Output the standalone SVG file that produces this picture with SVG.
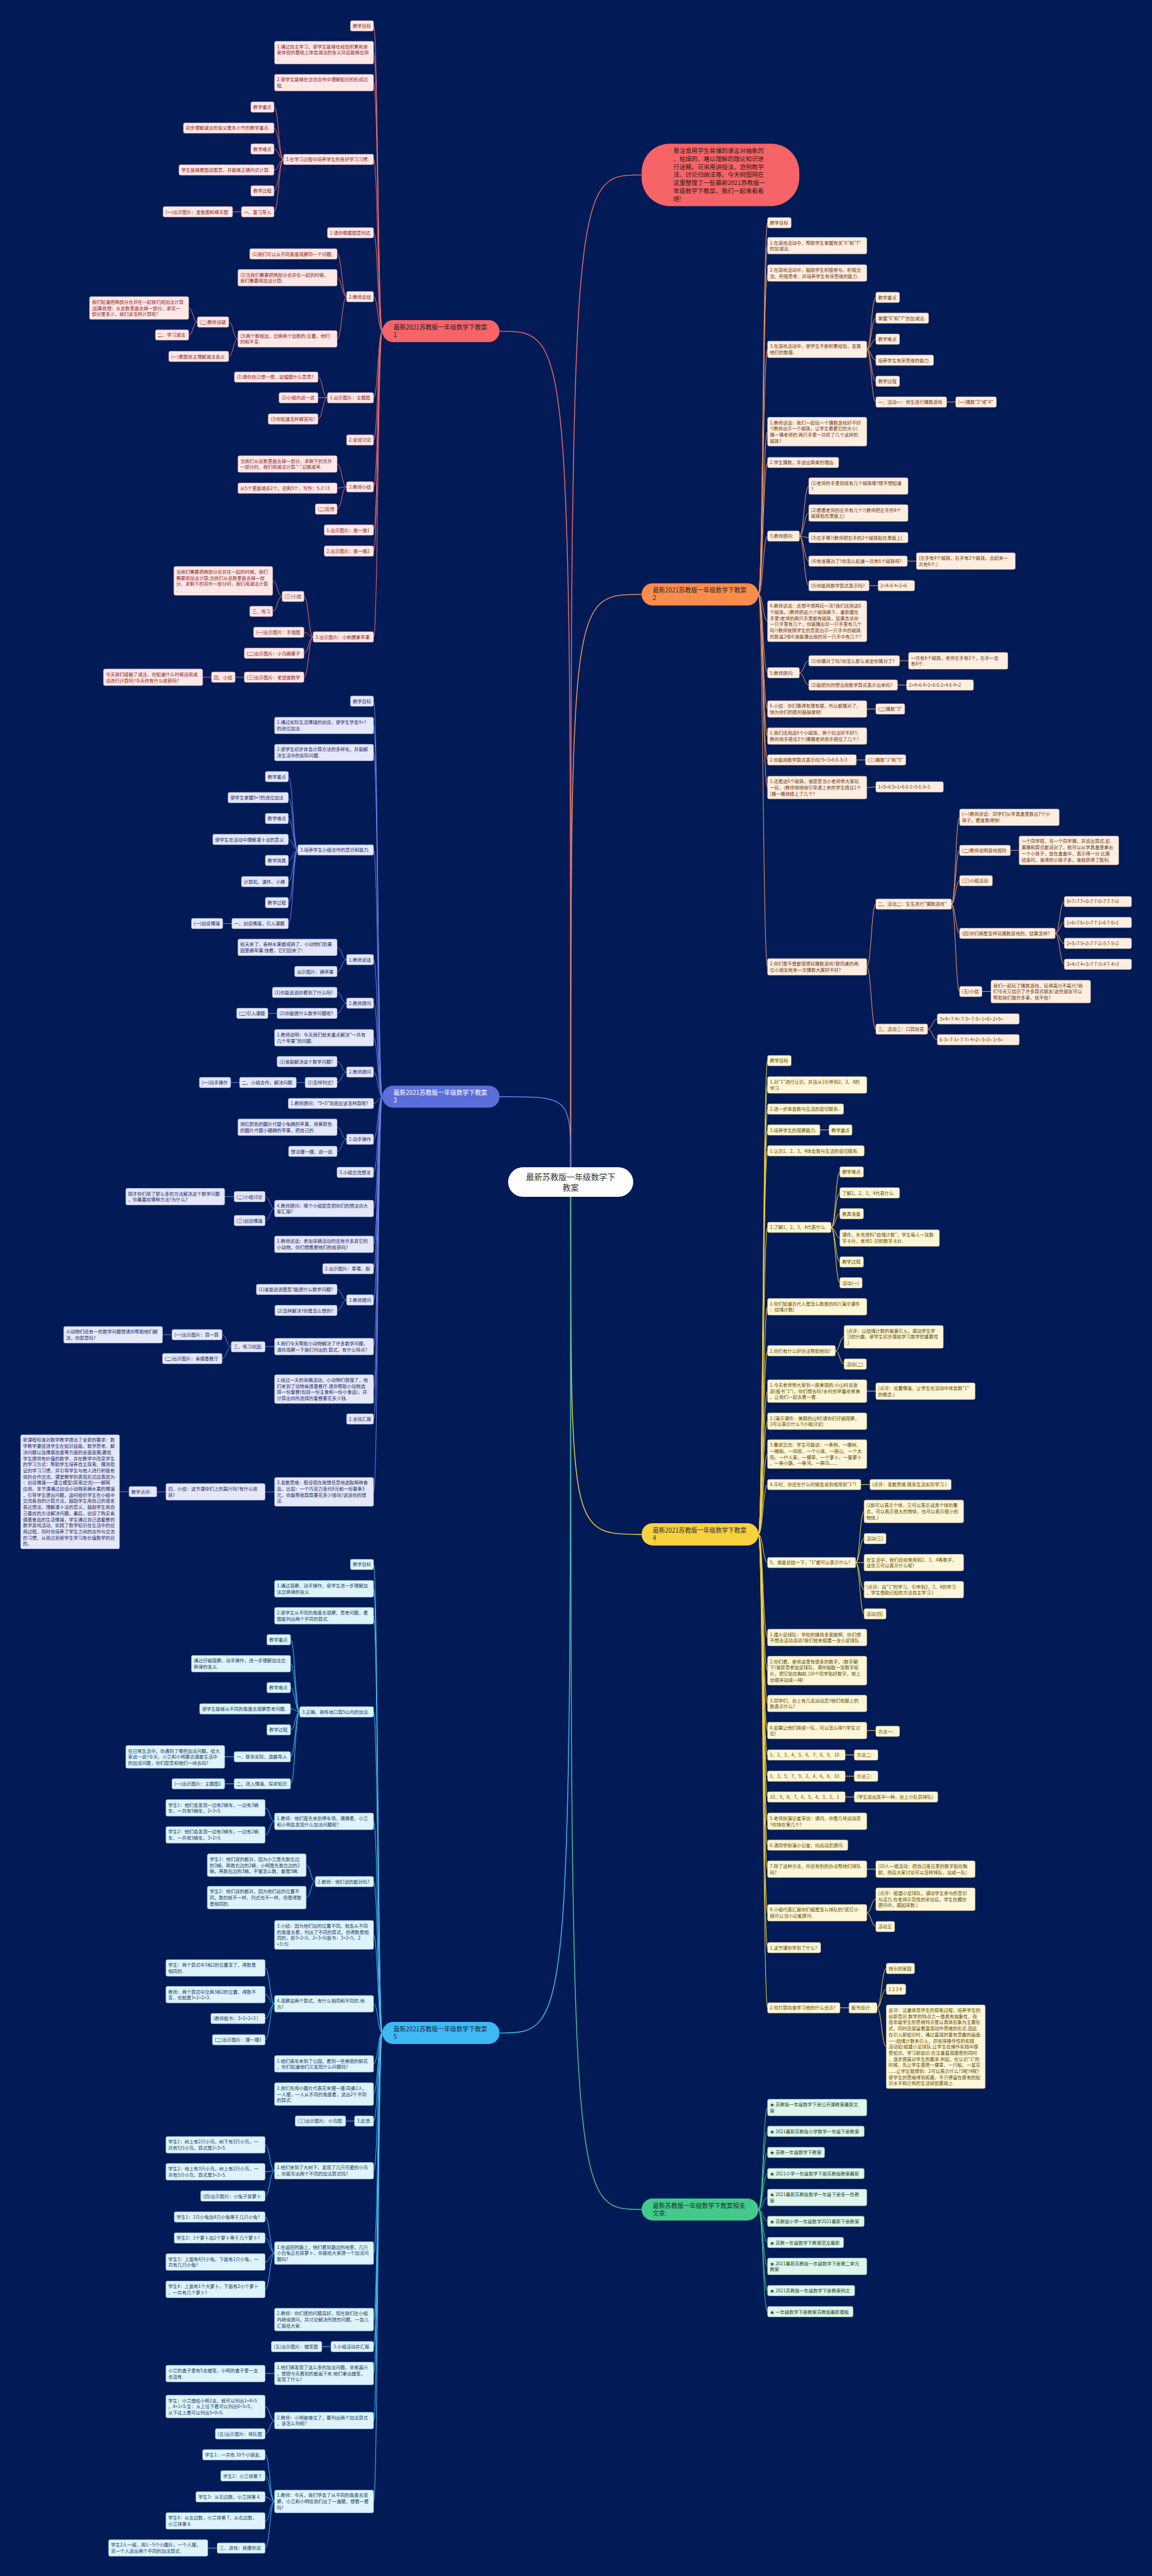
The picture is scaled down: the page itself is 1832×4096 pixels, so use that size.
<svg xmlns="http://www.w3.org/2000/svg" width="1832" height="4096" viewBox="0 0 1832 4096">
<style>
text{font-family:"Noto Sans CJK SC","Noto Sans",sans-serif;font-size:7.3px}
.n rect{rx:2.5px;ry:2.5px;stroke-width:0.6}
.b1 rect{fill:#fde8e8;stroke:#f2bcbc}.b1 text{fill:#8a2626}
.b2 rect{fill:#fdeee2;stroke:#f5c9a8}.b2 text{fill:#70370f}
.b3 rect{fill:#e4e8f8;stroke:#b9c1ec}.b3 text{fill:#1f2a6a}
.b4 rect{fill:#fdf6d8;stroke:#efdf97}.b4 text{fill:#5e4a00}
.b5 rect{fill:#dff3fc;stroke:#a8dcf4}.b5 text{fill:#173f5f}
.b6 rect{fill:#e0f5eb;stroke:#a6e0c4}.b6 text{fill:#1b4d36}
.m text{font-size:9.8px}
.m rect{rx:17.5px;ry:17.5px}
#M1 rect{fill:#f76467}#M1 text{fill:#2a2233}
#M2 rect{fill:#f98d4d}#M2 text{fill:#2f2a2a}
#M3 rect{fill:#5b6ed9}#M3 text{fill:#ffffff}
#M4 rect{fill:#f8d13f}#M4 text{fill:#333333}
#M5 rect{fill:#3dbaf4}#M5 text{fill:#1e2b4a}
#M6 rect{fill:#43c98b}#M6 text{fill:#1f3330}
#T rect{fill:#f76467}#T text{fill:#2b1a1a;font-size:9.6px}
#C rect{fill:#ffffff}#C text{fill:#333333;font-size:12.9px}
path{fill:none;stroke-width:1}
.c1{stroke:#ef6b6d}.c2{stroke:#f59a5e}.c3{stroke:#6a7de2}.c4{stroke:#f3cf3f}.c5{stroke:#47bdf2}.c6{stroke:#4cc891}
.k{stroke-width:1.4}
</style>
<rect x="0" y="0" width="1832" height="4096" fill="#021b57"/>
<g id="connectors">
<path class="c1 k" d="M907.5 1856C907.5 278.1 907.5 278.1 1020.4 278.1"/>
<path class="c1 k" d="M907.5 1856C907.5 526.6 907.5 526.6 794.4 526.6"/>
<path class="c2 k" d="M907.5 1856C907.5 945.1 907.5 945.1 1020.4 945.1"/>
<path class="c3 k" d="M907.5 1856C907.5 1743.8 907.5 1743.8 794.4 1743.8"/>
<path class="c4 k" d="M907.5 1903C907.5 2439.7 907.5 2439.7 1020.4 2439.7"/>
<path class="c5 k" d="M907.5 1903C907.5 3232.6 907.5 3232.6 794.4 3232.6"/>
<path class="c6 k" d="M907.5 1903C907.5 3513.3 907.5 3513.3 1020.4 3513.3"/>
<path class="c1" d="M608 526.6C601 526.6 601 41.1 594 41.1M608 526.6C601 526.6 601 83.7 594 83.7M608 526.6C601 526.6 601 131.5 594 131.5M608 526.6C601 526.6 601 253.5 594 253.5M608 526.6C601 526.6 601 370.1 594 370.1M608 526.6C601 526.6 601 471.7 594 471.7M608 526.6C601 526.6 601 632.5 594 632.5M608 526.6C601 526.6 601 699.6 594 699.6M608 526.6C601 526.6 601 774.1 594 774.1M608 526.6C601 526.6 601 842.8 594 842.8M608 526.6C601 526.6 601 876.2 594 876.2M608 526.6C601 526.6 601 1012.8 594 1012.8"/>
<path class="c1" d="M450.9 253.5C443.3 253.5 443.3 170.2 435.7 170.2M450.9 253.5C443.3 253.5 443.3 203.6 435.7 203.6M450.9 253.5C443.3 253.5 443.3 236.9 435.7 236.9M450.9 253.5C443.3 253.5 443.3 270.2 435.7 270.2M450.9 253.5C443.3 253.5 443.3 303.5 435.7 303.5M450.9 253.5C443.3 253.5 443.3 336.8 435.7 336.8M384 336.8H369.8"/>
<path class="c1" d="M551.2 471.7C543.6 471.7 543.6 403.8 536 403.8M551.2 471.7C543.6 471.7 543.6 441.7 536 441.7M551.2 471.7C543.6 471.7 543.6 538.9 536 538.9M378.4 538.9C371 538.9 371 512 363.7 512M378.4 538.9C371 538.9 371 566.8 363.7 566.8M314 512C307 512 307 489.8 300 489.8M314 512C307 512 307 532.6 300 532.6"/>
<path class="c1" d="M520.8 632.5C513.2 632.5 513.2 599.6 505.6 599.6M520.8 632.5H505.6M520.8 632.5C513.2 632.5 513.2 666.2 505.6 666.2M551.2 774.1C543.6 774.1 543.6 737.9 536 737.9M551.2 774.1C543.6 774.1 543.6 776.2 536 776.2M551.2 774.1C543.6 774.1 543.6 809.5 536 809.5"/>
<path class="c1" d="M498 1012.8C490.7 1012.8 490.7 948.4 483.3 948.4M498 1012.8C490.7 1012.8 490.7 1005.4 483.3 1005.4M498 1012.8C490.7 1012.8 490.7 1038.7 483.3 1038.7M498 1012.8C490.7 1012.8 490.7 1076.8 483.3 1076.8M448.8 948.4C441.2 948.4 441.2 923.7 433.6 923.7M448.8 948.4C441.2 948.4 441.2 972.1 433.6 972.1M388.6 1076.8H373.9M336.4 1076.8H322.2"/>
<path class="c3" d="M608 1743.8C601 1743.8 601 1114.9 594 1114.9M608 1743.8C601 1743.8 601 1153.6 594 1153.6M608 1743.8C601 1743.8 601 1196.6 594 1196.6M608 1743.8C601 1743.8 601 1351.5 594 1351.5M608 1743.8C601 1743.8 601 1525.9 594 1525.9M608 1743.8C601 1743.8 601 1595.1 594 1595.1M608 1743.8C601 1743.8 601 1650.1 594 1650.1M608 1743.8C601 1743.8 601 1704.6 594 1704.6M608 1743.8C601 1743.8 601 1754.6 594 1754.6M608 1743.8C601 1743.8 601 1811.5 594 1811.5M608 1743.8C601 1743.8 601 1864.1 594 1864.1M608 1743.8C601 1743.8 601 1921.7 594 1921.7M608 1743.8C601 1743.8 601 1978.6 594 1978.6M608 1743.8C601 1743.8 601 2017.4 594 2017.4M608 1743.8C601 1743.8 601 2067 594 2067M608 1743.8C601 1743.8 601 2141.2 594 2141.2M608 1743.8C601 1743.8 601 2208.8 594 2208.8M608 1743.8C601 1743.8 601 2256.3 594 2256.3M608 1743.8C601 1743.8 601 2372.2 594 2372.2"/>
<path class="c3" d="M473.7 1351.5C466.1 1351.5 466.1 1234.9 458.5 1234.9M473.7 1351.5C466.1 1351.5 466.1 1268.2 458.5 1268.2M473.7 1351.5C466.1 1351.5 466.1 1301.5 458.5 1301.5M473.7 1351.5C466.1 1351.5 466.1 1334.8 458.5 1334.8M473.7 1351.5C466.1 1351.5 466.1 1368.1 458.5 1368.1M473.7 1351.5C466.1 1351.5 466.1 1401.9 458.5 1401.9M473.7 1351.5C466.1 1351.5 466.1 1435.2 458.5 1435.2M473.7 1351.5C466.1 1351.5 466.1 1468.5 458.5 1468.5M368.8 1468.5H354.1"/>
<path class="c3" d="M551.2 1525.9C543.6 1525.9 543.6 1506.4 536 1506.4M551.2 1525.9C543.6 1525.9 543.6 1544.7 536 1544.7M551.2 1595.1C543.6 1595.1 543.6 1578 536 1578M551.2 1595.1C543.6 1595.1 543.6 1611.3 536 1611.3M440.7 1611.3H426M551.2 1704.6C543.6 1704.6 543.6 1688 536 1688M551.2 1704.6C543.6 1704.6 543.6 1721.3 536 1721.3M485.3 1721.3H471.1M381 1721.3H366.8M551.2 1811.5C543.6 1811.5 543.6 1792.4 536 1792.4M551.2 1811.5C543.6 1811.5 543.6 1830.8 536 1830.8"/>
<path class="c3" d="M436.7 1921.7C429.1 1921.7 429.1 1902.7 421.5 1902.7M436.7 1921.7C429.1 1921.7 429.1 1940.8 421.5 1940.8M372.4 1902.7H357.2M551.2 2067C543.6 2067 543.6 2050.3 536 2050.3M551.2 2067C543.6 2067 543.6 2083.7 536 2083.7M436.7 2141.3H421.5M367.8 2141.5C360.5 2141.5 360.5 2122.2 353.1 2122.2M367.8 2141.5C360.5 2141.5 360.5 2160.3 353.1 2160.3M273.6 2122.2H258.4M436.7 2372.2H421.5M263.9 2372.1H249.2M205.2 2371.9H190"/>
<path class="c5" d="M608 3232.6C601 3232.6 601 2487.6 594 2487.6M608 3232.6C601 3232.6 601 2526.3 594 2526.3M608 3232.6C601 3232.6 601 2569.2 594 2569.2M608 3232.6C601 3232.6 601 2722 594 2722M608 3232.6C601 3232.6 601 2896.1 594 2896.1M608 3232.6C601 3232.6 601 2991.9 594 2991.9M608 3232.6C601 3232.6 601 3076.7 594 3076.7M608 3232.6C601 3232.6 601 3186.2 594 3186.2M608 3232.6C601 3232.6 601 3281.7 594 3281.7M608 3232.6C601 3232.6 601 3329.8 594 3329.8M608 3232.6C601 3232.6 601 3372.6 594 3372.6M608 3232.6C601 3232.6 601 3451.6 594 3451.6M608 3232.6C601 3232.6 601 3582.6 594 3582.6M608 3232.6C601 3232.6 601 3688.2 594 3688.2M608 3232.6C601 3232.6 601 3731.2 594 3731.2M608 3232.6C601 3232.6 601 3773.9 594 3773.9M608 3232.6C601 3232.6 601 3848.9 594 3848.9M608 3232.6C601 3232.6 601 3977.4 594 3977.4"/>
<path class="c5" d="M476.7 2722C469.4 2722 469.4 2607.2 462 2607.2M476.7 2722C469.4 2722 469.4 2645.5 462 2645.5M476.7 2722C469.4 2722 469.4 2683.4 462 2683.4M476.7 2722C469.4 2722 469.4 2717.2 462 2717.2M476.7 2722C469.4 2722 469.4 2750.5 462 2750.5M476.7 2722C469.4 2722 469.4 2793.4 462 2793.4M476.7 2722C469.4 2722 469.4 2836.4 462 2836.4M372.4 2793.4H357.2M372.4 2836.4H357.2"/>
<path class="c5" d="M436.7 2896.1C429.1 2896.1 429.1 2874.7 421.5 2874.7M436.7 2896.1C429.1 2896.1 429.1 2917.6 421.5 2917.6M501.5 2991.9C494.2 2991.9 494.2 2965.8 486.8 2965.8M501.5 2991.9C494.2 2991.9 494.2 3017.3 486.8 3017.3M436.7 3186.2C429.1 3186.2 429.1 3129.2 421.5 3129.2M436.7 3186.2C429.1 3186.2 429.1 3171.7 421.5 3171.7M436.7 3186.2C429.1 3186.2 429.1 3209.6 421.5 3209.6M436.7 3186.2C429.1 3186.2 429.1 3243.4 421.5 3243.4M563.9 3372.6H549.7"/>
<path class="c5" d="M436.7 3451.6C429.1 3451.6 429.1 3410.5 421.5 3410.5M436.7 3451.6C429.1 3451.6 429.1 3453.3 421.5 3453.3M436.7 3451.6C429.1 3451.6 429.1 3491.8 421.5 3491.8M436.7 3582.6C429.1 3582.6 429.1 3525.1 421.5 3525.1M436.7 3582.6C429.1 3582.6 429.1 3558.5 421.5 3558.5M436.7 3582.6C429.1 3582.6 429.1 3596.8 421.5 3596.8M436.7 3582.6C429.1 3582.6 429.1 3640.3 421.5 3640.3M526.4 3731.2H511.7M436.7 3773.9H421.5M436.7 3848.9C429.1 3848.9 429.1 3826.6 421.5 3826.6M436.7 3848.9C429.1 3848.9 429.1 3870 421.5 3870"/>
<path class="c5" d="M436.7 3977.4C429.1 3977.4 429.1 3903.2 421.5 3903.2M436.7 3977.4C429.1 3977.4 429.1 3936.8 421.5 3936.8M436.7 3977.4C429.1 3977.4 429.1 3970.1 421.5 3970.1M436.7 3977.4C429.1 3977.4 429.1 4008.5 421.5 4008.5M436.7 3977.4C429.1 3977.4 429.1 4051.6 421.5 4051.6M345.5 4051.6H330.3"/>
<path class="c2" d="M1206.1 945.1C1213.4 945.1 1213.4 354.1 1220.7 354.1M1206.1 945.1C1213.4 945.1 1213.4 390.7 1220.7 390.7M1206.1 945.1C1213.4 945.1 1213.4 434.1 1220.7 434.1M1206.1 945.1C1213.4 945.1 1213.4 555.6 1220.7 555.6M1206.1 945.1C1213.4 945.1 1213.4 686.4 1220.7 686.4M1206.1 945.1C1213.4 945.1 1213.4 735.4 1220.7 735.4M1206.1 945.1C1213.4 945.1 1213.4 852.4 1220.7 852.4M1206.1 945.1C1213.4 945.1 1213.4 987.8 1220.7 987.8M1206.1 945.1C1213.4 945.1 1213.4 1069.7 1220.7 1069.7M1206.1 945.1C1213.4 945.1 1213.4 1127.4 1220.7 1127.4M1206.1 945.1C1213.4 945.1 1213.4 1170.4 1220.7 1170.4M1206.1 945.1C1213.4 945.1 1213.4 1208.3 1220.7 1208.3M1206.1 945.1C1213.4 945.1 1213.4 1252.2 1220.7 1252.2M1206.1 945.1C1213.4 945.1 1213.4 1537.4 1220.7 1537.4"/>
<path class="c2" d="M1378.3 555.6C1385.6 555.6 1385.6 472.9 1392.9 472.9M1378.3 555.6C1385.6 555.6 1385.6 505.9 1392.9 505.9M1378.3 555.6C1385.6 555.6 1385.6 539.3 1392.9 539.3M1378.3 555.6C1385.6 555.6 1385.6 572.8 1392.9 572.8M1378.3 555.6C1385.6 555.6 1385.6 606.2 1392.9 606.2M1378.3 555.6C1385.6 555.6 1385.6 639.2 1392.9 639.2M1505.3 639.2H1519.9"/>
<path class="c2" d="M1271.2 852.4C1278.7 852.4 1278.7 772.9 1286.2 772.9M1271.2 852.4C1278.7 852.4 1278.7 815.8 1286.2 815.8M1271.2 852.4C1278.7 852.4 1278.7 854.7 1286.2 854.7M1271.2 852.4C1278.7 852.4 1278.7 892.2 1286.2 892.2M1271.2 852.4C1278.7 852.4 1278.7 931.2 1286.2 931.2M1442.8 892.2H1457.4M1382 931.2H1396.5M1271.2 1069.7C1278.7 1069.7 1278.7 1050.7 1286.2 1050.7M1271.2 1069.7C1278.7 1069.7 1278.7 1089.2 1286.2 1089.2M1430.4 1050.7H1444.9M1427.2 1089.2H1441.8M1378.3 1127.4H1392.9M1361.7 1208.3H1376.3M1378.3 1252.2C1385.6 1252.2 1385.6 1251.2 1392.9 1251.2"/>
<path class="c2" d="M1378.3 1537.4C1385.6 1537.4 1385.6 1437.6 1392.9 1437.6M1378.3 1537.4C1385.6 1537.4 1385.6 1636.4 1392.9 1636.4M1513 1437.6C1519.6 1437.6 1519.6 1299.6 1526.1 1299.6M1513 1437.6C1519.6 1437.6 1519.6 1352.2 1526.1 1352.2M1513 1437.6C1519.6 1437.6 1519.6 1400.4 1526.1 1400.4M1513 1437.6C1519.6 1437.6 1519.6 1484.1 1526.1 1484.1M1513 1437.6C1519.6 1437.6 1519.6 1576.6 1526.1 1576.6M1606.7 1352.2H1620.8M1678 1484.1C1685.3 1484.1 1685.3 1433.6 1692.6 1433.6M1678 1484.1C1685.3 1484.1 1685.3 1466.8 1692.6 1466.8M1678 1484.1C1685.3 1484.1 1685.3 1500 1692.6 1500M1678 1484.1C1685.3 1484.1 1685.3 1533.2 1692.6 1533.2M1561.5 1576.6H1576M1475.1 1636.4C1482.9 1636.4 1482.9 1620.1 1490.7 1620.1M1475.1 1636.4C1482.9 1636.4 1482.9 1653.2 1490.7 1653.2"/>
<path class="c4" d="M1206.1 2439.7C1213.4 2439.7 1213.4 1686.5 1220.7 1686.5M1206.1 2439.7C1213.4 2439.7 1213.4 1725.1 1220.7 1725.1M1206.1 2439.7C1213.4 2439.7 1213.4 1763.5 1220.7 1763.5M1206.1 2439.7C1213.4 2439.7 1213.4 1796.7 1220.7 1796.7M1206.1 2439.7C1213.4 2439.7 1213.4 1829.9 1220.7 1829.9M1206.1 2439.7C1213.4 2439.7 1213.4 1951.6 1220.7 1951.6M1206.1 2439.7C1213.4 2439.7 1213.4 2077.9 1220.7 2077.9M1206.1 2439.7C1213.4 2439.7 1213.4 2147.8 1220.7 2147.8M1206.1 2439.7C1213.4 2439.7 1213.4 2212 1220.7 2212M1206.1 2439.7C1213.4 2439.7 1213.4 2259.9 1220.7 2259.9M1206.1 2439.7C1213.4 2439.7 1213.4 2312.1 1220.7 2312.1M1206.1 2439.7C1213.4 2439.7 1213.4 2360.6 1220.7 2360.6M1206.1 2439.7C1213.4 2439.7 1213.4 2484.6 1220.7 2484.6M1206.1 2439.7C1213.4 2439.7 1213.4 2603.8 1220.7 2603.8M1206.1 2439.7C1213.4 2439.7 1213.4 2656.5 1220.7 2656.5M1206.1 2439.7C1213.4 2439.7 1213.4 2708.7 1220.7 2708.7M1206.1 2439.7C1213.4 2439.7 1213.4 2751.7 1220.7 2751.7M1206.1 2439.7C1213.4 2439.7 1213.4 2790.5 1220.7 2790.5M1206.1 2439.7C1213.4 2439.7 1213.4 2824.2 1220.7 2824.2M1206.1 2439.7C1213.4 2439.7 1213.4 2857.3 1220.7 2857.3M1206.1 2439.7C1213.4 2439.7 1213.4 2896 1220.7 2896M1206.1 2439.7C1213.4 2439.7 1213.4 2933.9 1220.7 2933.9M1206.1 2439.7C1213.4 2439.7 1213.4 2972.1 1220.7 2972.1M1206.1 2439.7C1213.4 2439.7 1213.4 3041.5 1220.7 3041.5M1206.1 2439.7C1213.4 2439.7 1213.4 3096.9 1220.7 3096.9M1206.1 2439.7C1213.4 2439.7 1213.4 3192.6 1220.7 3192.6"/>
<path class="c4" d="M1303.9 1796.7H1318.5M1321.6 1951.6C1328.7 1951.6 1328.7 1863.5 1335.7 1863.5M1321.6 1951.6C1328.7 1951.6 1328.7 1896.7 1335.7 1896.7M1321.6 1951.6C1328.7 1951.6 1328.7 1929.9 1335.7 1929.9M1321.6 1951.6C1328.7 1951.6 1328.7 1968.6 1335.7 1968.6M1321.6 1951.6C1328.7 1951.6 1328.7 2006.5 1335.7 2006.5M1321.6 1951.6C1328.7 1951.6 1328.7 2039.7 1335.7 2039.7M1328.4 2147.8C1335.4 2147.8 1335.4 2125.7 1342.4 2125.7M1328.4 2147.8C1335.4 2147.8 1335.4 2169 1342.4 2169M1378.3 2212H1392.9M1368.9 2360.6H1383.5"/>
<path class="c4" d="M1360.6 2484.6C1367.4 2484.6 1367.4 2403.2 1374.2 2403.2M1360.6 2484.6C1367.4 2484.6 1367.4 2446.5 1374.2 2446.5M1360.6 2484.6C1367.4 2484.6 1367.4 2484.7 1374.2 2484.7M1360.6 2484.6C1367.4 2484.6 1367.4 2527.7 1374.2 2527.7M1360.6 2484.6C1367.4 2484.6 1367.4 2566.1 1374.2 2566.1M1378.3 2751.7H1392.9M1344 2790.5H1358.6M1344 2824.2H1358.6M1344 2857.3H1358.6M1378.3 2972.1H1392.9M1378.3 3041.5C1385.6 3041.5 1385.6 3019.9 1392.9 3019.9M1378.3 3041.5C1385.6 3041.5 1385.6 3063.4 1392.9 3063.4M1335.7 3192.6H1350.2M1394.5 3192.6C1402 3192.6 1402 3130 1409.5 3130M1394.5 3192.6C1402 3192.6 1402 3163.1 1409.5 3163.1M1394.5 3192.6C1402 3192.6 1402 3254.4 1409.5 3254.4"/>
<path class="c6" d="M1206.1 3513.3C1213.4 3513.3 1213.4 3351.1 1220.7 3351.1M1206.1 3513.3C1213.4 3513.3 1213.4 3389 1220.7 3389M1206.1 3513.3C1213.4 3513.3 1213.4 3422.5 1220.7 3422.5M1206.1 3513.3C1213.4 3513.3 1213.4 3456.1 1220.7 3456.1M1206.1 3513.3C1213.4 3513.3 1213.4 3494.2 1220.7 3494.2M1206.1 3513.3C1213.4 3513.3 1213.4 3532.1 1220.7 3532.1M1206.1 3513.3C1213.4 3513.3 1213.4 3565.7 1220.7 3565.7M1206.1 3513.3C1213.4 3513.3 1213.4 3603.8 1220.7 3603.8M1206.1 3513.3C1213.4 3513.3 1213.4 3642.2 1220.7 3642.2M1206.1 3513.3C1213.4 3513.3 1213.4 3675.7 1220.7 3675.7"/>
</g>
<g id="C"><rect x="808" y="1856" width="199" height="47" rx="23.5"/><text x="907.5" y="1875.8" text-anchor="middle">最新苏教版一年级数学下</text><text x="907.5" y="1892.5" text-anchor="middle">教案</text></g>
<g id="T"><rect x="1020.4" y="228.4" width="250.7" height="99.4" rx="45"/><text><tspan x="1070.8" y="243.2">要注意用学生易懂的语言对抽象的</tspan><tspan x="1070.8" y="255.9">、枯燥的、难以理解的理论知识进</tspan><tspan x="1070.8" y="268.5">行诠释。可采用讲授法、范例教学</tspan><tspan x="1070.8" y="281.2">法、讨论归纳法等。今天树图网在</tspan><tspan x="1070.8" y="294.3">这里整理了一些最新2021苏教版一</tspan><tspan x="1070.8" y="307.4">年级数学下教案，我们一起来看看</tspan><tspan x="1070.8" y="320">吧!</tspan></text></g>
<g id="M1" class="m"><rect x="608" y="509" width="186.4" height="35.1"/><text><tspan x="625.7" y="523.9">最新2021苏教版一年级数学下教案</tspan><tspan x="625.7" y="535.9">1</tspan></text></g>
<g id="M2" class="m"><rect x="1020.4" y="927.4" width="185.7" height="35.4"/><text><tspan x="1038" y="942.3">最新2021苏教版一年级数学下教案</tspan><tspan x="1038" y="954.3">2</tspan></text></g>
<g id="M3" class="m"><rect x="608" y="1726.2" width="186.4" height="35.1"/><text><tspan x="625.7" y="1741.1">最新2021苏教版一年级数学下教案</tspan><tspan x="625.7" y="1753.1">3</tspan></text></g>
<g id="M4" class="m"><rect x="1020.4" y="2421.9" width="185.7" height="35.5"/><text><tspan x="1038" y="2436.8">最新2021苏教版一年级数学下教案</tspan><tspan x="1038" y="2448.8">4</tspan></text></g>
<g id="M5" class="m"><rect x="608" y="3215" width="186.4" height="35.1"/><text><tspan x="625.7" y="3229.9">最新2021苏教版一年级数学下教案</tspan><tspan x="625.7" y="3241.9">5</tspan></text></g>
<g id="M6" class="m"><rect x="1020.4" y="3495.8" width="185.7" height="34.9"/><text><tspan x="1038" y="3510.7">最新苏教版一年级数学下教案相关</tspan><tspan x="1038" y="3522.7">文章:</tspan></text></g>
<g class="n b1">
<g id="a1"><rect x="557.3" y="32.9" width="36.7" height="16.4"/><text x="560.9" y="43.9">教学目标</text></g>
<g id="a2"><rect x="436.7" y="65.7" width="157.3" height="36"/><text><tspan x="440.3" y="76.7">1.通过自主学习，使学生能够在经验积累和亲</tspan><tspan x="440.3" y="86.4">身体验的基础上体会减法的含义并且能够应用</tspan><tspan x="440.3" y="96.1">.</tspan></text></g>
<g id="a3"><rect x="436.7" y="118.3" width="157.3" height="26.3"/><text><tspan x="440.3" y="129.3">2.使学生能够在交流合作中理解知识的形成过</tspan><tspan x="440.3" y="139">程.</tspan></text></g>
<g id="a4"><rect x="450.9" y="245.3" width="143.1" height="16.4"/><text x="454.5" y="256.3">3.在学习过程中培养学生的良好学习习惯.</text></g>
<g id="a4a"><rect x="399" y="162" width="36.7" height="16.4"/><text x="402.6" y="173">教学重点</text></g>
<g id="a4b"><rect x="291.8" y="195.4" width="143.9" height="16.4"/><text x="295.4" y="206.4">初步理解减法的含义是本小节的教学重点.</text></g>
<g id="a4c"><rect x="399" y="228.7" width="36.7" height="16.4"/><text x="402.6" y="239.7">教学难点</text></g>
<g id="a4d"><rect x="284.7" y="262" width="151" height="16.4"/><text x="288.3" y="273">学生能够看图说图意，并能够正确列式计算.</text></g>
<g id="a4e"><rect x="399" y="295.3" width="36.7" height="16.4"/><text x="402.6" y="306.3">教学过程</text></g>
<g id="a4f"><rect x="384" y="328.6" width="51.7" height="16.4"/><text x="387.6" y="339.6">一、复习导入</text></g>
<g id="a4f1"><rect x="259.4" y="328.6" width="110.4" height="16.4"/><text x="263" y="339.6">(一)出示图片：金鱼图和绵羊图</text></g>
<g id="a5"><rect x="520.8" y="361.9" width="73.2" height="16.4"/><text x="524.4" y="372.9">1.请你根据图意列式</text></g>
<g id="a6"><rect x="551.2" y="463.5" width="42.8" height="16.4"/><text x="554.8" y="474.5">2.教师总结</text></g>
<g id="a6a"><rect x="397.2" y="395.6" width="138.8" height="16.4"/><text x="400.8" y="406.6">(1)我们可以从不同角度观察同一个问题;</text></g>
<g id="a6b"><rect x="378.4" y="428.5" width="157.6" height="26.3"/><text><tspan x="382" y="439.5">(2)当我们需要把两部分合并在一起的时候，</tspan><tspan x="382" y="449.2">我们需要用加法计算;</tspan></text></g>
<g id="a6c"><rect x="378.4" y="525.7" width="157.6" height="26.3"/><text><tspan x="382" y="536.7">(3)两个数相加，交换两个加数的.位置，他们</tspan><tspan x="382" y="546.4">的和不变.</tspan></text></g>
<g id="a6c1"><rect x="314" y="503.8" width="49.7" height="16.4"/><text x="317.6" y="514.8">(二)教师设疑</text></g>
<g id="a6c1a"><rect x="142.4" y="471.8" width="157.6" height="36"/><text><tspan x="146" y="482.8">我们知道把两部分合并在一起我们用加法计算</tspan><tspan x="146" y="492.5">;如果我想：从总数里面去掉一部分，求另一</tspan><tspan x="146" y="502.2">部分是多少，我们该怎样计算呢?</tspan></text></g>
<g id="a6c1b"><rect x="247.2" y="524.4" width="52.8" height="16.4"/><text x="250.8" y="535.4">二、学习减法</text></g>
<g id="a6c2"><rect x="268.5" y="558.6" width="95.2" height="16.4"/><text x="272.1" y="569.6">(一)看图自主理解减法含义</text></g>
<g id="a7"><rect x="520.8" y="624.3" width="73.2" height="16.4"/><text x="524.4" y="635.3">1.出示图片：主题图</text></g>
<g id="a7a"><rect x="372.9" y="591.4" width="132.7" height="16.4"/><text x="376.5" y="602.4">(1)请你自己想一想，这幅图什么意思?</text></g>
<g id="a7b"><rect x="443.8" y="624.3" width="61.8" height="16.4"/><text x="447.4" y="635.3">(2)小组内说一说</text></g>
<g id="a7c"><rect x="426.6" y="658" width="79" height="16.4"/><text x="430.2" y="669">(3)你知道怎样解答吗?</text></g>
<g id="a8"><rect x="551.2" y="691.4" width="42.8" height="16.4"/><text x="554.8" y="702.4">2.全班讨论</text></g>
<g id="a9"><rect x="551.2" y="765.9" width="42.8" height="16.4"/><text x="554.8" y="776.9">3.教师小结</text></g>
<g id="a9a"><rect x="378.4" y="724.7" width="157.6" height="26.3"/><text><tspan x="382" y="735.7">当我们从总数里面去掉一部分，求剩下的另外</tspan><tspan x="382" y="745.4">一部分时，我们用减法计算."-"记做减号.</tspan></text></g>
<g id="a9b"><rect x="378.4" y="768" width="157.6" height="16.4"/><text x="382" y="779">从5个里面减去2个，还剩3个，写作：5-2 =3</text></g>
<g id="a9c"><rect x="501.5" y="801.3" width="34.5" height="16.4"/><text x="505.1" y="812.3">(二)反馈</text></g>
<g id="a10"><rect x="515.7" y="834.6" width="78.3" height="16.4"/><text x="519.3" y="845.6">1.出示图片：做一做1</text></g>
<g id="a11"><rect x="515.7" y="868" width="78.3" height="16.4"/><text x="519.3" y="879">2.出示图片：做一做2</text></g>
<g id="a12"><rect x="498" y="1004.6" width="96" height="16.4"/><text x="501.6" y="1015.6">3.出示图片：小刺猬拿苹果</text></g>
<g id="a12a"><rect x="448.8" y="940.2" width="34.5" height="16.4"/><text x="452.4" y="951.2">(三)小结</text></g>
<g id="a12a1"><rect x="276.6" y="900.8" width="157" height="45.7"/><text><tspan x="280.2" y="911.8">当我们需要把两部分合并在一起的时候，我们</tspan><tspan x="280.2" y="921.5">需要用加法计算;当我们从总数里面去掉一部</tspan><tspan x="280.2" y="931.2">分，求剩下的另外一部分时，我们用减法计算</tspan><tspan x="280.2" y="940.9">.</tspan></text></g>
<g id="a12a2"><rect x="397.2" y="963.9" width="36.4" height="16.4"/><text x="400.8" y="974.9">三、练习</text></g>
<g id="a12b"><rect x="403.3" y="997.2" width="80" height="16.4"/><text x="406.9" y="1008.2">(一)出示图片：手指图</text></g>
<g id="a12c"><rect x="388.6" y="1030.5" width="94.7" height="16.4"/><text x="392.2" y="1041.5">(二)出示图片：小鸟摘果子</text></g>
<g id="a12d"><rect x="388.6" y="1068.6" width="94.7" height="16.4"/><text x="392.2" y="1079.6">(三)出示图片：老鼠做数学</text></g>
<g id="a12d1"><rect x="336.4" y="1068.6" width="37.5" height="16.4"/><text x="340" y="1079.6">四、小结</text></g>
<g id="a12d1a"><rect x="164.6" y="1063.8" width="157.6" height="26.3"/><text><tspan x="168.2" y="1074.8">今天我们接触了减法，你知道什么时候运用减</tspan><tspan x="168.2" y="1084.5">法进行计算吗?今天你有什么收获吗?</tspan></text></g>
</g>
<g class="n b3">
<g id="c1"><rect x="557.3" y="1106.7" width="36.7" height="16.4"/><text x="560.9" y="1117.7">教学目标</text></g>
<g id="c2"><rect x="436.7" y="1140.4" width="157.3" height="26.3"/><text><tspan x="440.3" y="1151.4">1.通过实际生活情境的创设，使学生学会9+?</tspan><tspan x="440.3" y="1161.1">的进位加法.</tspan></text></g>
<g id="c3"><rect x="436.7" y="1183.4" width="157.3" height="26.3"/><text><tspan x="440.3" y="1194.4">2.使学生初步体会计算方法的多样化，并能解</tspan><tspan x="440.3" y="1204.1">决生活中的实际问题.</tspan></text></g>
<g id="c4"><rect x="473.7" y="1343.3" width="120.3" height="16.4"/><text x="477.3" y="1354.3">3.培养学生小组合作的意识和能力.</text></g>
<g id="c4a"><rect x="422" y="1226.7" width="36.5" height="16.4"/><text x="425.6" y="1237.7">教学重点</text></g>
<g id="c4b"><rect x="362.7" y="1260" width="95.8" height="16.4"/><text x="366.3" y="1271">使学生掌握9+?的进位加法</text></g>
<g id="c4c"><rect x="422" y="1293.3" width="36.5" height="16.4"/><text x="425.6" y="1304.3">教学难点</text></g>
<g id="c4d"><rect x="338.4" y="1326.6" width="120.1" height="16.4"/><text x="342" y="1337.6">使学生在活动中理解凑十法的意义</text></g>
<g id="c4e"><rect x="422" y="1359.9" width="36.5" height="16.4"/><text x="425.6" y="1370.9">教学用具</text></g>
<g id="c4f"><rect x="384" y="1393.7" width="74.5" height="16.4"/><text x="387.6" y="1404.7">计算机、课件、小棒</text></g>
<g id="c4g"><rect x="422" y="1427" width="36.5" height="16.4"/><text x="425.6" y="1438">教学过程</text></g>
<g id="c4h"><rect x="368.8" y="1460.3" width="89.7" height="16.4"/><text x="372.4" y="1471.3">一、创设情境，引入课题</text></g>
<g id="c4h1"><rect x="304.5" y="1460.3" width="49.6" height="16.4"/><text x="308.1" y="1471.3">(一)创设情境</text></g>
<g id="c5"><rect x="551.2" y="1517.7" width="42.8" height="16.4"/><text x="554.8" y="1528.7">1.教师谈话</text></g>
<g id="c5a"><rect x="378.4" y="1493.2" width="157.6" height="26.3"/><text><tspan x="382" y="1504.2">秋天来了，各种水果都成熟了，小动物们到果</tspan><tspan x="382" y="1513.9">园里摘苹果.快看，它们回来了!</tspan></text></g>
<g id="c5b"><rect x="468.6" y="1536.5" width="67.4" height="16.4"/><text x="472.2" y="1547.5">出示图片：摘苹果</text></g>
<g id="c6"><rect x="551.2" y="1586.9" width="42.8" height="16.4"/><text x="554.8" y="1597.9">2.教师提问</text></g>
<g id="c6a"><rect x="433.2" y="1569.8" width="102.8" height="16.4"/><text x="436.8" y="1580.8">(1)你能说说你看到了什么吗?</text></g>
<g id="c6b"><rect x="440.7" y="1603.1" width="95.3" height="16.4"/><text x="444.3" y="1614.1">(2)你能提什么数学问题呢?</text></g>
<g id="c6b1"><rect x="376.4" y="1603.1" width="49.6" height="16.4"/><text x="380" y="1614.1">(二)引入课题</text></g>
<g id="c7"><rect x="436.7" y="1636.9" width="157.3" height="26.3"/><text><tspan x="440.3" y="1647.9">1.教师说明：今天我们就来重点解决"一共有</tspan><tspan x="440.3" y="1657.6">几个苹果"的问题.</tspan></text></g>
<g id="c8"><rect x="551.2" y="1696.4" width="42.8" height="16.4"/><text x="554.8" y="1707.4">2.教师提问</text></g>
<g id="c8a"><rect x="440.7" y="1679.8" width="95.3" height="16.4"/><text x="444.3" y="1690.8">(1)谁能解决这个数学问题?</text></g>
<g id="c8b"><rect x="485.3" y="1713.1" width="50.7" height="16.4"/><text x="488.9" y="1724.1">(2)怎样列式?</text></g>
<g id="c8b1"><rect x="381" y="1713.1" width="90.1" height="16.4"/><text x="384.6" y="1724.1">二、小组合作，解决问题</text></g>
<g id="c8b1a"><rect x="317.1" y="1713.1" width="49.7" height="16.4"/><text x="320.7" y="1724.1">(一)动手操作</text></g>
<g id="c9"><rect x="458.5" y="1746.4" width="135.5" height="16.4"/><text x="462.1" y="1757.4">1.教师提问："9+5"到底应该怎样算呢?</text></g>
<g id="c10"><rect x="551.2" y="1803.3" width="42.8" height="16.4"/><text x="554.8" y="1814.3">2.动手操作</text></g>
<g id="c10a"><rect x="378.4" y="1779.2" width="157.6" height="26.3"/><text><tspan x="382" y="1790.2">用红颜色的圆片代替小兔摘的苹果，用黄颜色</tspan><tspan x="382" y="1799.9">的圆片代替小猪摘的苹果，把自己的</tspan></text></g>
<g id="c10b"><rect x="459" y="1822.6" width="77" height="16.4"/><text x="462.6" y="1833.6">想法摆一摆、说一说.</text></g>
<g id="c11"><rect x="536" y="1855.9" width="58" height="16.4"/><text x="539.6" y="1866.9">3.小组交流想法</text></g>
<g id="c12"><rect x="436.7" y="1908.5" width="157.3" height="26.3"/><text><tspan x="440.3" y="1919.5">4.教师提问：哪个小组愿意把你们的想法向大</tspan><tspan x="440.3" y="1929.2">家汇报?</tspan></text></g>
<g id="c12a"><rect x="372.4" y="1894.5" width="49.1" height="16.4"/><text x="376" y="1905.5">(二)小组讨论</text></g>
<g id="c12a1"><rect x="200.1" y="1889.6" width="157.1" height="26.3"/><text><tspan x="203.7" y="1900.6">刚才你们用了那么多的方法解决这个数学问题</tspan><tspan x="203.7" y="1910.3">，你最喜欢哪种方法?为什么?</tspan></text></g>
<g id="c12b"><rect x="372.4" y="1932.6" width="49.1" height="16.4"/><text x="376" y="1943.6">(三)创设情境</text></g>
<g id="c13"><rect x="436.7" y="1965.4" width="157.3" height="26.3"/><text><tspan x="440.3" y="1976.4">1.教师谈话：参加采摘活动的还有许多其它的</tspan><tspan x="440.3" y="1986.1">小动物，你们想看看他们的收获吗?</tspan></text></g>
<g id="c14"><rect x="513.2" y="2009.2" width="80.8" height="16.4"/><text x="516.8" y="2020.2">2.出示图片：草莓、梨</text></g>
<g id="c15"><rect x="551.2" y="2058.8" width="42.8" height="16.4"/><text x="554.8" y="2069.8">3.教师提问</text></g>
<g id="c15a"><rect x="407.8" y="2042.1" width="128.2" height="16.4"/><text x="411.4" y="2053.1">(1)谁能说说图意?能提什么数学问题?</text></g>
<g id="c15b"><rect x="437.2" y="2075.5" width="98.8" height="16.4"/><text x="440.8" y="2086.5">(2)怎样解决?你是怎么想的?</text></g>
<g id="c16"><rect x="436.7" y="2128" width="157.3" height="26.3"/><text><tspan x="440.3" y="2139">4.我们今天帮助小动物解决了许多数学问题，</tspan><tspan x="440.3" y="2148.7">请你观察一下我们列出的 算式，有什么特点?</tspan></text></g>
<g id="c16a"><rect x="367.8" y="2133.3" width="53.7" height="16.4"/><text x="371.4" y="2144.3">三、练习巩固.</text></g>
<g id="c16a1"><rect x="273.6" y="2114" width="79.5" height="16.4"/><text x="277.2" y="2125">(一)出示图片：算一算</text></g>
<g id="c16a1a"><rect x="101.3" y="2109.2" width="157.1" height="26.3"/><text><tspan x="104.9" y="2120.2">小动物们还有一些数学问题想请你帮助他们解</tspan><tspan x="104.9" y="2129.9">决，你愿意吗?</tspan></text></g>
<g id="c16a2"><rect x="258.4" y="2152.1" width="94.7" height="16.4"/><text x="262" y="2163.1">(二)出示图片：肯德基餐厅</text></g>
<g id="c17"><rect x="436.7" y="2185.9" width="157.3" height="45.7"/><text><tspan x="440.3" y="2196.9">1.经过一天的采摘活动，小动物们很饿了，他</tspan><tspan x="440.3" y="2206.6">们来到了动物肯德基餐厅.请你帮助小动物选</tspan><tspan x="440.3" y="2216.3">择一份套餐(包括一份主食和一份小食品)，并</tspan><tspan x="440.3" y="2226">计算出你所选择的套餐要花多少钱.</tspan></text></g>
<g id="c18"><rect x="551.2" y="2248.1" width="42.8" height="16.4"/><text x="554.8" y="2259.1">2.全班汇报</text></g>
<g id="c19"><rect x="436.7" y="2349.3" width="157.3" height="45.7"/><text><tspan x="440.3" y="2360.3">3.发散思维：假设现在我想任意地选取两种食</tspan><tspan x="440.3" y="2370">品，比如：一个巧克力圣代8元和一份薯条5</tspan><tspan x="440.3" y="2379.7">元，你能帮我算算要花多少钱吗?说说你的想</tspan><tspan x="440.3" y="2389.4">法.</tspan></text></g>
<g id="c19a"><rect x="263.9" y="2358.9" width="157.6" height="26.3"/><text><tspan x="267.5" y="2369.9">四、小结：这节课你们上的高兴吗?有什么收</tspan><tspan x="267.5" y="2379.6">获?</tspan></text></g>
<g id="c19a1"><rect x="205.2" y="2363.7" width="44" height="16.4"/><text x="208.8" y="2374.7">教学点评:</text></g>
<g id="c19a1a"><rect x="32.9" y="2281.4" width="157.1" height="181.3"/><text><tspan x="36.5" y="2292.4">新课程标准对数学教学提出了全新的要求：数</tspan><tspan x="36.5" y="2302.1">学教学要促进学生在知识技能、数学思考、解</tspan><tspan x="36.5" y="2311.8">决问题以及情感态度等方面的全面发展;要给</tspan><tspan x="36.5" y="2321.5">学生提供有价值的数学，并在教学中改变学生</tspan><tspan x="36.5" y="2331.2">的学习方式：帮助学生培养自主探索、猜测验</tspan><tspan x="36.5" y="2340.9">证的学习习惯，并引导学生与他人进行积极有</tspan><tspan x="36.5" y="2350.6">效的合作交流。课堂教学的表现形式应表现为</tspan><tspan x="36.5" y="2360.3">：创设情境——建立模型(探索交流)——解释</tspan><tspan x="36.5" y="2370">应用。本节课通过创设小动物采摘水果的情境</tspan><tspan x="36.5" y="2379.7">，引导学生提出问题，适时组织学生在小组中</tspan><tspan x="36.5" y="2389.4">交流各自的计算方法，鼓励学生用自己的语言</tspan><tspan x="36.5" y="2399.1">表达想法，理解凑十法的意义，鼓励学生用自</tspan><tspan x="36.5" y="2408.8">己喜欢的方法解决问题。最后，创设了购买肯</tspan><tspan x="36.5" y="2418.5">德基食品的生活情境，学生通过自己选套餐的</tspan><tspan x="36.5" y="2428.2">数学游戏活动，实践了数学知识在生活中的应</tspan><tspan x="36.5" y="2437.9">用过程，同时也培养了学生之间的合作与交流</tspan><tspan x="36.5" y="2447.6">的习惯。从而达到使学生学习有价值数学的目</tspan><tspan x="36.5" y="2457.3">的。</tspan></text></g>
</g>
<g class="n b5">
<g id="e1"><rect x="557.3" y="2479.4" width="36.7" height="16.4"/><text x="560.9" y="2490.4">教学目标</text></g>
<g id="e2"><rect x="436.7" y="2513.1" width="157.3" height="26.3"/><text><tspan x="440.3" y="2524.1">1.通过观察、动手操作，使学生进一步理解加</tspan><tspan x="440.3" y="2533.8">法交换律的含义.</tspan></text></g>
<g id="e3"><rect x="436.7" y="2556" width="157.3" height="26.3"/><text><tspan x="440.3" y="2567">2.使学生从不同的角度去观察、思考问题，看</tspan><tspan x="440.3" y="2576.7">图能列出两个不同的算式.</tspan></text></g>
<g id="e4"><rect x="476.7" y="2713.8" width="117.3" height="16.4"/><text x="480.3" y="2724.8">3.正确、熟练地口算5以内的加法.</text></g>
<g id="e4a"><rect x="424.5" y="2599" width="37.5" height="16.4"/><text x="428.1" y="2610">教学重点</text></g>
<g id="e4b"><rect x="304.5" y="2632.3" width="157.5" height="26.3"/><text><tspan x="308.1" y="2643.3">通过仔细观察，动手操作，进一步理解加法交</tspan><tspan x="308.1" y="2653">换律的含义.</tspan></text></g>
<g id="e4c"><rect x="424.5" y="2675.2" width="37.5" height="16.4"/><text x="428.1" y="2686.2">教学难点</text></g>
<g id="e4d"><rect x="317.6" y="2709" width="144.4" height="16.4"/><text x="321.2" y="2720">使学生能够从不同的角度去观察思考问题.</text></g>
<g id="e4e"><rect x="424.5" y="2742.3" width="37.5" height="16.4"/><text x="428.1" y="2753.3">教学过程</text></g>
<g id="e4f"><rect x="372.4" y="2785.2" width="89.6" height="16.4"/><text x="376" y="2796.2">一、联系实际，激趣导入</text></g>
<g id="e4f1"><rect x="200.1" y="2775.6" width="157.1" height="36"/><text><tspan x="203.7" y="2786.6">在日常生活中，你遇到了哪些加法问题，给大</tspan><tspan x="203.7" y="2796.3">家说一说?今天，小兰和小明要去调查生活中</tspan><tspan x="203.7" y="2806">的加法问题，你们愿意和他们一块去吗?</tspan></text></g>
<g id="e4g"><rect x="372.4" y="2828.2" width="89.6" height="16.4"/><text x="376" y="2839.2">二、进入情境，探求知识</text></g>
<g id="e4g1"><rect x="273.6" y="2828.2" width="83.6" height="16.4"/><text x="277.2" y="2839.2">(一)出示图片：主题图1</text></g>
<g id="e5"><rect x="436.7" y="2882.9" width="157.3" height="26.3"/><text><tspan x="440.3" y="2893.9">1.教师：他们首先来到停车场，猜猜看，小兰</tspan><tspan x="440.3" y="2903.6">和小明会发现什么加法问题呢?</tspan></text></g>
<g id="e5a"><rect x="263.9" y="2861.5" width="157.6" height="26.3"/><text><tspan x="267.5" y="2872.5">学生1：他们会发现一边有2辆车，一边有3辆</tspan><tspan x="267.5" y="2882.2">车，一共有5辆车，2+3=5.</tspan></text></g>
<g id="e5b"><rect x="263.9" y="2904.4" width="157.6" height="26.3"/><text><tspan x="267.5" y="2915.4">学生2：他们会发现一边有3辆车，一边有2辆</tspan><tspan x="267.5" y="2925.1">车，一共有5辆车，3+2=5.</tspan></text></g>
<g id="e6"><rect x="501.5" y="2983.7" width="92.5" height="16.4"/><text x="505.1" y="2994.7">2.教师：他们说的都对吗?</text></g>
<g id="e6a"><rect x="329.8" y="2947.8" width="157" height="36"/><text><tspan x="333.4" y="2958.8">学生1：他们说的都对，因为小兰是先数左边</tspan><tspan x="333.4" y="2968.5">的3辆，再数右边的2辆，小明是先数左边的2</tspan><tspan x="333.4" y="2978.2">辆，再数右边的3辆，不管怎么数，都是5辆.</tspan></text></g>
<g id="e6b"><rect x="329.8" y="2999.3" width="157" height="36"/><text><tspan x="333.4" y="3010.3">学生2：他们说的都对，因为他们站的位置不</tspan><tspan x="333.4" y="3020">同，数的就不一样，列式也不一样，但是得数</tspan><tspan x="333.4" y="3029.7">是相同的.</tspan></text></g>
<g id="e7"><rect x="436.7" y="3053.8" width="157.3" height="45.7"/><text><tspan x="440.3" y="3064.8">3.小结：因为他们站的位置不同，就会从不同</tspan><tspan x="440.3" y="3074.5">的角度去看，列出了不同的算式，但得数是相</tspan><tspan x="440.3" y="3084.2">同的，即3+2=5，2+3=5(板书：3+2=5，2</tspan><tspan x="440.3" y="3093.9">+3=5)</tspan></text></g>
<g id="e8"><rect x="436.7" y="3173" width="157.3" height="26.3"/><text><tspan x="440.3" y="3184">4.观察这两个算式，有什么相同和不同的.地</tspan><tspan x="440.3" y="3193.7">方?</tspan></text></g>
<g id="e8a"><rect x="263.9" y="3116" width="157.6" height="26.3"/><text><tspan x="267.5" y="3127">学生：两个算式中3和2的位置变了，得数是</tspan><tspan x="267.5" y="3136.7">相同的.</tspan></text></g>
<g id="e8b"><rect x="263.9" y="3158.5" width="157.6" height="26.3"/><text><tspan x="267.5" y="3169.5">教师：两个算式中交换3和2的位置，得数不</tspan><tspan x="267.5" y="3179.2">变，也就是3+2=2+3.</tspan></text></g>
<g id="e8c"><rect x="335.4" y="3201.4" width="86.1" height="16.4"/><text x="339" y="3212.4">(教师板书：3+2=2+3 )</text></g>
<g id="e8d"><rect x="337.9" y="3235.2" width="83.6" height="16.4"/><text x="341.5" y="3246.2">(二)出示图片：摆一摆1</text></g>
<g id="e9"><rect x="436.7" y="3268.5" width="157.3" height="26.3"/><text><tspan x="440.3" y="3279.5">1.他们乘车来到了公园，看到一些美丽的鲜花</tspan><tspan x="440.3" y="3289.2">，你们知道他们又发现什么问题吗?</tspan></text></g>
<g id="e10"><rect x="436.7" y="3311.8" width="157.3" height="36"/><text><tspan x="440.3" y="3322.8">2.我们先用小圆片代表花来摆一摆.同桌2人，</tspan><tspan x="440.3" y="3332.5">一人摆，一人从不同的角度看，说出2个不同</tspan><tspan x="440.3" y="3342.2">的算式.</tspan></text></g>
<g id="e11"><rect x="563.9" y="3364.4" width="30.1" height="16.4"/><text x="567.5" y="3375.4">3.反馈.</text></g>
<g id="e11a"><rect x="469.6" y="3364.4" width="80.1" height="16.4"/><text x="473.2" y="3375.4">(三)出示图片：小鸟图</text></g>
<g id="e12"><rect x="436.7" y="3438.4" width="157.3" height="26.3"/><text><tspan x="440.3" y="3449.4">1.他们来到了大树下，发现了几只可爱的小鸟</tspan><tspan x="440.3" y="3459.1">，你能写出两个不同的加法算式吗?</tspan></text></g>
<g id="e12a"><rect x="263.9" y="3397.3" width="157.6" height="26.3"/><text><tspan x="267.5" y="3408.3">学生1：树上有2只小鸟，树下有3只小鸟，一</tspan><tspan x="267.5" y="3418">共有5只小鸟，算式是2+3=5.</tspan></text></g>
<g id="e12b"><rect x="263.9" y="3440.1" width="157.6" height="26.3"/><text><tspan x="267.5" y="3451.1">学生2：地上有3只小鸟，树上有2只小鸟，一</tspan><tspan x="267.5" y="3460.8">共有5只小鸟，算式是3+2=5.</tspan></text></g>
<g id="e12c"><rect x="319.2" y="3483.6" width="102.3" height="16.4"/><text x="322.8" y="3494.6">(四)出示图片：小兔子拔萝卜</text></g>
<g id="e13"><rect x="436.7" y="3564.6" width="157.3" height="36"/><text><tspan x="440.3" y="3575.6">1.在返回的路上，他们看到路边的地里，几只</tspan><tspan x="440.3" y="3585.3">小白兔正在拔萝卜，你能给大家提一个加法问</tspan><tspan x="440.3" y="3595">题吗?</tspan></text></g>
<g id="e13a"><rect x="277.1" y="3516.9" width="144.4" height="16.4"/><text x="280.7" y="3527.9">学生1：1只小兔加4只小兔等于几只小兔?</text></g>
<g id="e13b"><rect x="277.1" y="3550.3" width="144.4" height="16.4"/><text x="280.7" y="3561.3">学生2：1个萝卜加2个萝卜等于几个萝卜?</text></g>
<g id="e13c"><rect x="263.9" y="3583.6" width="157.6" height="26.3"/><text><tspan x="267.5" y="3594.6">学生3：上面有4只小兔，下面有1只小兔，一</tspan><tspan x="267.5" y="3604.3">共有几只小兔?</tspan></text></g>
<g id="e13d"><rect x="263.9" y="3627.1" width="157.6" height="26.3"/><text><tspan x="267.5" y="3638.1">学生4：上面有1个大萝卜，下面有2小个萝卜</tspan><tspan x="267.5" y="3647.8">，一共有几个萝卜?</tspan></text></g>
<g id="e14"><rect x="436.7" y="3670.2" width="157.3" height="36"/><text><tspan x="440.3" y="3681.2">2.教师：你们提的问题真好，现在我们在小组</tspan><tspan x="440.3" y="3690.9">内继续提问，并讨论解决所提的问题，一会儿</tspan><tspan x="440.3" y="3700.6">汇报给大家.</tspan></text></g>
<g id="e15"><rect x="526.4" y="3723" width="67.6" height="16.4"/><text x="530" y="3734">3.小组活动并汇报.</text></g>
<g id="e15a"><rect x="431.6" y="3723" width="80.1" height="16.4"/><text x="435.2" y="3734">(五)出示图片：蜡笔图</text></g>
<g id="e16"><rect x="436.7" y="3755.9" width="157.3" height="36"/><text><tspan x="440.3" y="3766.9">1.他们俩发现了这么多的加法问题，非常高兴</tspan><tspan x="440.3" y="3776.6">，想把今天看到的都画下来.他们拿出蜡笔，</tspan><tspan x="440.3" y="3786.3">发现了什么?</tspan></text></g>
<g id="e16a"><rect x="263.9" y="3761" width="157.6" height="26.3"/><text><tspan x="267.5" y="3772">小兰的盒子里有5支蜡笔，小明的盒子里一支</tspan><tspan x="267.5" y="3781.7">也没有.</tspan></text></g>
<g id="e17"><rect x="436.7" y="3835.7" width="157.3" height="26.3"/><text><tspan x="440.3" y="3846.7">2.教师：小明被难住了，要列出两个加法算式</tspan><tspan x="440.3" y="3856.4">，该怎么列呢?</tspan></text></g>
<g id="e17a"><rect x="263.9" y="3808.6" width="157.6" height="36"/><text><tspan x="267.5" y="3819.6">学生：小兰借给小明1支，就可以列出1+4=5</tspan><tspan x="267.5" y="3829.3">，4+1=5.生：从上往下看可以列出0+5=5，</tspan><tspan x="267.5" y="3839">从下往上看可以列出5+0=5.</tspan></text></g>
<g id="e17b"><rect x="342.5" y="3861.8" width="79" height="16.4"/><text x="346.1" y="3872.8">(五)出示图片：排队图</text></g>
<g id="e18"><rect x="436.7" y="3959.4" width="157.3" height="36"/><text><tspan x="440.3" y="3970.4">1.教师：今天，我们学会了从不同的角度去观</tspan><tspan x="440.3" y="3980.1">察，小兰和小明给我们出了一道题，想看一看</tspan><tspan x="440.3" y="3989.8">吗?</tspan></text></g>
<g id="e18a"><rect x="322.2" y="3895" width="99.3" height="16.4"/><text x="325.8" y="3906">学生1：一共有 10个小朋友.</text></g>
<g id="e18b"><rect x="351.1" y="3928.6" width="70.4" height="16.4"/><text x="354.7" y="3939.6">学生2：小兰排第 7</text></g>
<g id="e18c"><rect x="311.6" y="3961.9" width="109.9" height="16.4"/><text x="315.2" y="3972.9">学生3：从右边数，小兰排第 4.</text></g>
<g id="e18d"><rect x="263.9" y="3995.3" width="157.6" height="26.3"/><text><tspan x="267.5" y="4006.3">学生4：从左边数，小兰排第 7，从右边数，</tspan><tspan x="267.5" y="4016">小兰排第 4.</tspan></text></g>
<g id="e18e"><rect x="345.5" y="4043.4" width="76" height="16.4"/><text x="349.1" y="4054.4">三、游戏：我摆你说.</text></g>
<g id="e18e1"><rect x="172.8" y="4038.3" width="157.5" height="26.3"/><text><tspan x="176.4" y="4049.3">学生2人一组，用1—5个小圆片，一个人摆，</tspan><tspan x="176.4" y="4059">另一个人说出两个不同的加法算式.</tspan></text></g>
</g>
<g class="n b2">
<g id="b_1"><rect x="1220.7" y="345.9" width="37.4" height="16.4"/><text x="1224.3" y="356.9">教学目标</text></g>
<g id="b_2"><rect x="1220.7" y="377.5" width="157.6" height="26.3"/><text><tspan x="1224.3" y="388.5">1.在游戏活动中，帮助学生掌握有关"6"和"7"</tspan><tspan x="1224.3" y="398.2">的加减法.</tspan></text></g>
<g id="b_3"><rect x="1220.7" y="420.9" width="157.6" height="26.3"/><text><tspan x="1224.3" y="431.9">2.在游戏活动中，鼓励学生积极参与、积极交</tspan><tspan x="1224.3" y="441.6">流、积极思考，并培养学生有序思维的能力.</tspan></text></g>
<g id="b_4"><rect x="1220.7" y="542.4" width="157.6" height="26.3"/><text><tspan x="1224.3" y="553.4">3.在游戏活动中，使学生不断积累经验，发展</tspan><tspan x="1224.3" y="563.1">他们的数感.</tspan></text></g>
<g id="b_4a"><rect x="1392.9" y="464.7" width="37.5" height="16.4"/><text x="1396.5" y="475.7">教学重点</text></g>
<g id="b_4b"><rect x="1392.9" y="497.7" width="83.8" height="16.4"/><text x="1396.5" y="508.7">掌握"6"和"7"的加减法.</text></g>
<g id="b_4c"><rect x="1392.9" y="531.1" width="37.5" height="16.4"/><text x="1396.5" y="542.1">教学难点</text></g>
<g id="b_4d"><rect x="1392.9" y="564.6" width="91.6" height="16.4"/><text x="1396.5" y="575.6">培养学生有序思维的能力.</text></g>
<g id="b_4e"><rect x="1392.9" y="598" width="37.5" height="16.4"/><text x="1396.5" y="609">教学过程</text></g>
<g id="b_4f"><rect x="1392.9" y="631" width="112.4" height="16.4"/><text x="1396.5" y="642">一、活动一：师生进行猜数游戏</text></g>
<g id="b_4f1"><rect x="1519.9" y="631" width="64.5" height="16.4"/><text x="1523.5" y="642">(一)猜数"2"或"4"</text></g>
<g id="b_5"><rect x="1220.7" y="663.5" width="157.6" height="45.7"/><text><tspan x="1224.3" y="674.5">1.教师谈话：我们一起玩一个猜数游戏好不好</tspan><tspan x="1224.3" y="684.2">?(教师出示一个磁珠，让学生看看它的大小)</tspan><tspan x="1224.3" y="693.9">猜一猜老师的 两只手里一共抓了几个这样的</tspan><tspan x="1224.3" y="703.6">磁珠?</tspan></text></g>
<g id="b_6"><rect x="1220.7" y="727.2" width="112.9" height="16.4"/><text x="1224.3" y="738.2">2.学生猜数，并说出简单的理由.</text></g>
<g id="b_7"><rect x="1220.7" y="844.2" width="50.5" height="16.4"/><text x="1224.3" y="855.2">3.教师提问:</text></g>
<g id="b_7a"><rect x="1286.2" y="759.7" width="157.7" height="26.3"/><text><tspan x="1289.8" y="770.7">(1)老师的手里到底有几个磁珠哪?想不想知道</tspan><tspan x="1289.8" y="780.4">?</tspan></text></g>
<g id="b_7b"><rect x="1286.2" y="802.6" width="157.7" height="26.3"/><text><tspan x="1289.8" y="813.6">(2)看看老师的左手有几个?(教师把左手的4个</tspan><tspan x="1289.8" y="823.3">磁珠贴在黑板上)</tspan></text></g>
<g id="b_7c"><rect x="1286.2" y="846.5" width="157.7" height="16.4"/><text x="1289.8" y="857.5">(3)右手哪?(教师把右手的2个磁珠贴在黑板上)</text></g>
<g id="b_7d"><rect x="1286.2" y="884" width="156.6" height="16.4"/><text x="1289.8" y="895">(4)有谁猜对了?你怎么知道一共有6个磁珠呀?</text></g>
<g id="b_7d1"><rect x="1457.4" y="879" width="157.1" height="26.3"/><text><tspan x="1461" y="890">(左手有4个磁珠，右手有2个磁珠，合起来一</tspan><tspan x="1461" y="899.7">共有6个.)</tspan></text></g>
<g id="b_7e"><rect x="1286.2" y="923" width="95.8" height="16.4"/><text x="1289.8" y="934">(5)你能用数学算式表示吗?</text></g>
<g id="b_7e1"><rect x="1396.5" y="923" width="57.8" height="16.4"/><text x="1400.1" y="934">2+4=6 4+2=6</text></g>
<g id="b_8"><rect x="1220.7" y="955.3" width="157.6" height="64.9"/><text><tspan x="1224.3" y="966.3">4.教师谈话：还想不想再玩一次?我们还用这6</tspan><tspan x="1224.3" y="976">个磁珠，(教师把这六个磁珠摘下，重新握在</tspan><tspan x="1224.3" y="985.7">手里)老师的两只手里都有磁珠，如果告诉你</tspan><tspan x="1224.3" y="995.4">一只手里有几个，你能猜出另一只手里有几个</tspan><tspan x="1224.3" y="1005.1">吗?(教师按照学生的意愿出示一只手中的磁珠</tspan><tspan x="1224.3" y="1014.8">的数量2或4)谁能猜出我的另一只手中有几个?</tspan></text></g>
<g id="b_9"><rect x="1220.7" y="1061.5" width="50.5" height="16.4"/><text x="1224.3" y="1072.5">5.教师提问:</text></g>
<g id="b_9a"><rect x="1286.2" y="1042.5" width="144.2" height="16.4"/><text x="1289.8" y="1053.5">(1)你猜对了吗?你怎么那么肯定你猜对了?</text></g>
<g id="b_9a1"><rect x="1444.9" y="1037.6" width="157.7" height="26.3"/><text><tspan x="1448.5" y="1048.6">一共有6个磁珠，老师左手有2个，右手一定</tspan><tspan x="1448.5" y="1058.3">有4个.</tspan></text></g>
<g id="b_9b"><rect x="1286.2" y="1081" width="141" height="16.4"/><text x="1289.8" y="1092">(2)能把你的想法用数学算式表示出来吗?</text></g>
<g id="b_9b1"><rect x="1441.8" y="1081" width="106.2" height="16.4"/><text x="1445.4" y="1092">2+4=6 4+2=6 6-2=4 6-4=2</text></g>
<g id="b_10"><rect x="1220.7" y="1114.2" width="157.6" height="26.3"/><text><tspan x="1224.3" y="1125.2">6.小结：你们猜得有理有据，所以都猜对了，</tspan><tspan x="1224.3" y="1134.9">快为你们的胜利鼓鼓掌吧!</tspan></text></g>
<g id="b_10a"><rect x="1392.9" y="1119.1" width="45.8" height="16.4"/><text x="1396.5" y="1130.1">(二)猜数"3"</text></g>
<g id="b_11"><rect x="1220.7" y="1157.2" width="157.6" height="26.3"/><text><tspan x="1224.3" y="1168.2">1.我们还用这6个小磁珠，换个玩法好不好?(</tspan><tspan x="1224.3" y="1177.9">教师用手捂住3个)猜猜老师用手捂住了几个?</tspan></text></g>
<g id="b_12"><rect x="1220.7" y="1200.1" width="141" height="16.4"/><text x="1224.3" y="1211.1">2.你能用数学算式表示吗?3+3=6 6-3=3</text></g>
<g id="b_12a"><rect x="1376.3" y="1200.1" width="64" height="16.4"/><text x="1379.9" y="1211.1">(三)猜数"1"和"5"</text></g>
<g id="b_13"><rect x="1220.7" y="1234.2" width="157.6" height="36"/><text><tspan x="1224.3" y="1245.2">1.还是这6个磁珠，谁愿意当小老师带大家玩</tspan><tspan x="1224.3" y="1254.9">一玩，(教师悄悄地引导请上来的学生捂住1个</tspan><tspan x="1224.3" y="1264.6">)猜一猜他捂上了几个?</tspan></text></g>
<g id="b_13a"><rect x="1392.9" y="1243" width="107.2" height="16.4"/><text x="1396.5" y="1254">1+5=6 5+1=6 6-1=5 6-5=1</text></g>
<g id="b_14"><rect x="1220.7" y="1524.2" width="157.6" height="26.3"/><text><tspan x="1224.3" y="1535.2">2.你们是不是都很想玩猜数游戏?那同桌的两</tspan><tspan x="1224.3" y="1544.9">位小朋友就来一次猜数大赛好不好?</tspan></text></g>
<g id="b_14a"><rect x="1392.9" y="1429.4" width="120.1" height="16.4"/><text x="1396.5" y="1440.4">二、活动二：生生进行"猜数游戏"</text></g>
<g id="b_14a1"><rect x="1526.1" y="1286.4" width="158.2" height="26.3"/><text><tspan x="1529.7" y="1297.4">(一)教师谈话：同学们从学具盒里数出7个小</tspan><tspan x="1529.7" y="1307.1">珠子，看谁数得快!</tspan></text></g>
<g id="b_14a2"><rect x="1526.1" y="1344" width="80.6" height="16.4"/><text x="1529.7" y="1355">(二)教师说明游戏规则</text></g>
<g id="b_14a2a"><rect x="1620.8" y="1329.4" width="158.2" height="45.7"/><text><tspan x="1624.4" y="1340.4">一个同学捂，另一个同学猜，并说出算式.如</tspan><tspan x="1624.4" y="1350.1">果猜和算式都说对了，就可以从学具盒里拿出</tspan><tspan x="1624.4" y="1359.8">一个小珠子，放在盒盖中，表示得一分.比赛</tspan><tspan x="1624.4" y="1369.5">结束时，谁得的小珠子多，谁就获得了胜利.</tspan></text></g>
<g id="b_14a3"><rect x="1526.1" y="1392.2" width="52" height="16.4"/><text x="1529.7" y="1403.2">(三)小组活动.</text></g>
<g id="b_14a4"><rect x="1526.1" y="1475.9" width="151.9" height="16.4"/><text x="1529.7" y="1486.9">(四)你们俩是怎样玩猜数游戏的，结果怎样?</text></g>
<g id="b_14a4a"><rect x="1692.6" y="1425.4" width="106.7" height="16.4"/><text x="1696.2" y="1436.4">0+7=7 7+0=7 7-0=7 7-7=0</text></g>
<g id="b_14a4b"><rect x="1692.6" y="1458.6" width="106.7" height="16.4"/><text x="1696.2" y="1469.6">1+6=7 6+1=7 7-1=6 7-6=1</text></g>
<g id="b_14a4c"><rect x="1692.6" y="1491.8" width="106.7" height="16.4"/><text x="1696.2" y="1502.8">2+5=7 5+2=7 7-2=5 7-5=2</text></g>
<g id="b_14a4d"><rect x="1692.6" y="1525" width="106.7" height="16.4"/><text x="1696.2" y="1536">3+4=7 4+3=7 7-3=4 7-4=3</text></g>
<g id="b_14a5"><rect x="1526.1" y="1568.4" width="35.4" height="16.4"/><text x="1529.7" y="1579.4">(五)小结</text></g>
<g id="b_14a5a"><rect x="1576" y="1558.7" width="158.2" height="36"/><text><tspan x="1579.6" y="1569.7">我们一起玩了猜数游戏，玩得高兴不高兴?我</tspan><tspan x="1579.6" y="1579.4">们今天又结识了许多算式朋友!这些朋友可以</tspan><tspan x="1579.6" y="1589.1">帮助我们做许多事，信不信?</tspan></text></g>
<g id="b_14b"><rect x="1392.9" y="1628.2" width="82.2" height="16.4"/><text x="1396.5" y="1639.2">三、活动三：口算抢答</text></g>
<g id="b_14b1"><rect x="1490.7" y="1611.9" width="130.1" height="16.4"/><text x="1494.3" y="1622.9">3+4= 7-4= 7-3= 7-5= 1+6= 2+5=</text></g>
<g id="b_14b2"><rect x="1490.7" y="1645" width="130.1" height="16.4"/><text x="1494.3" y="1656">6-3= 7-1= 7-7= 4+2= 3+3= 1+5=</text></g>
</g>
<g class="n b4">
<g id="d1"><rect x="1220.7" y="1678.3" width="37.4" height="16.4"/><text x="1224.3" y="1689.3">教学目标</text></g>
<g id="d2"><rect x="1220.7" y="1711.9" width="157.6" height="26.3"/><text><tspan x="1224.3" y="1722.9">1.对"1"进行认识，并且从1引申到2、3、4的</tspan><tspan x="1224.3" y="1732.6">学习.</tspan></text></g>
<g id="d3"><rect x="1220.7" y="1755.3" width="120.7" height="16.4"/><text x="1224.3" y="1766.3">2.进一步体会数与生活的密切联系.</text></g>
<g id="d4"><rect x="1220.7" y="1788.5" width="83.2" height="16.4"/><text x="1224.3" y="1799.5">3.培养学生的观察能力.</text></g>
<g id="d4a"><rect x="1318.5" y="1788.5" width="36.4" height="16.4"/><text x="1322.1" y="1799.5">教学重点</text></g>
<g id="d5"><rect x="1220.7" y="1821.7" width="153.5" height="16.4"/><text x="1224.3" y="1832.7">1.认识1、2、3、4体会数与生活的密切联系.</text></g>
<g id="d6"><rect x="1220.7" y="1943.4" width="100.9" height="16.4"/><text x="1224.3" y="1954.4">2.了解1、2、3、4代表什么.</text></g>
<g id="d6a"><rect x="1335.7" y="1855.3" width="37.4" height="16.4"/><text x="1339.3" y="1866.3">教学难点</text></g>
<g id="d6b"><rect x="1335.7" y="1888.5" width="94.7" height="16.4"/><text x="1339.3" y="1899.5">了解1、2、3、4代表什么.</text></g>
<g id="d6c"><rect x="1335.7" y="1921.7" width="37.4" height="16.4"/><text x="1339.3" y="1932.7">教具准备</text></g>
<g id="d6d"><rect x="1335.7" y="1955.4" width="158.1" height="26.3"/><text><tspan x="1339.3" y="1966.4">课件、补充资料"结绳计数"，学生每人一张数</tspan><tspan x="1339.3" y="1976.1">字卡片，老师1-10的数字卡片.</tspan></text></g>
<g id="d6e"><rect x="1335.7" y="1998.3" width="37.4" height="16.4"/><text x="1339.3" y="2009.3">教学过程</text></g>
<g id="d6f"><rect x="1335.7" y="2031.5" width="35.3" height="16.4"/><text x="1339.3" y="2042.5">活动(一)</text></g>
<g id="d7"><rect x="1220.7" y="2064.7" width="157.6" height="26.3"/><text><tspan x="1224.3" y="2075.7">1.你们知道古代人是怎么数数的吗?(演示课件</tspan><tspan x="1224.3" y="2085.4">：结绳计数)</tspan></text></g>
<g id="d8"><rect x="1220.7" y="2139.6" width="107.7" height="16.4"/><text x="1224.3" y="2150.6">2.你们有什么好办法帮助他吗?</text></g>
<g id="d8a"><rect x="1342.4" y="2107.7" width="157.6" height="36"/><text><tspan x="1346" y="2118.7">(点评：以结绳计数的故事引入，调动学生学</tspan><tspan x="1346" y="2128.4">习的兴趣，使学生初步感知学习数学的重要性</tspan><tspan x="1346" y="2138.1">.)</tspan></text></g>
<g id="d8b"><rect x="1342.4" y="2160.8" width="35.4" height="16.4"/><text x="1346" y="2171.8">活动(二)</text></g>
<g id="d9"><rect x="1220.7" y="2194" width="157.6" height="36"/><text><tspan x="1224.3" y="2205">1.今天老师带大家到一座美丽的.小山村去旅</tspan><tspan x="1224.3" y="2214.7">游(板书"1")，你们想去吗?乡村的早晨非常美</tspan><tspan x="1224.3" y="2224.4">，让我们一起去看一看.</tspan></text></g>
<g id="d9a"><rect x="1392.9" y="2198.9" width="157.7" height="26.3"/><text><tspan x="1396.5" y="2209.9">(点评：设置情境，让学生在活动中体会数"1"</tspan><tspan x="1396.5" y="2219.6">的概念.)</tspan></text></g>
<g id="d10"><rect x="1220.7" y="2246.7" width="157.6" height="26.3"/><text><tspan x="1224.3" y="2257.7">2.(演示课件：美丽的山村)请你们仔细观察，</tspan><tspan x="1224.3" y="2267.4">1可以表示什么?(小组讨论)</tspan></text></g>
<g id="d11"><rect x="1220.7" y="2289.2" width="157.6" height="45.7"/><text><tspan x="1224.3" y="2300.2">3.集体交流：学生可能说：一条狗、一棵树、</tspan><tspan x="1224.3" y="2309.9">一艘船、一间房、一个小孩、一座山、一个太</tspan><tspan x="1224.3" y="2319.6">阳、一户人家、一棵草、一个萝卜、一筐萝卜</tspan><tspan x="1224.3" y="2329.3">、一条小路、一条河、一群鸟......</tspan></text></g>
<g id="d12"><rect x="1220.7" y="2352.4" width="148.2" height="16.4"/><text x="1224.3" y="2363.4">4.平时，你还在什么时候会说到或用到"1"?</text></g>
<g id="d12a"><rect x="1383.5" y="2352.4" width="129.1" height="16.4"/><text x="1387.1" y="2363.4">(点评：发散思维.联系生活实际学习.)</text></g>
<g id="d13"><rect x="1220.7" y="2476.4" width="139.9" height="16.4"/><text x="1224.3" y="2487.4">5、谁能总结一下，"1"都可以表示什么?</text></g>
<g id="d13a"><rect x="1374.2" y="2385.2" width="158.1" height="36"/><text><tspan x="1377.8" y="2396.2">(1即可以表示个体，又可以表示这类个体的集</tspan><tspan x="1377.8" y="2405.9">合，可以表示很大的物体，也可以表示很小的</tspan><tspan x="1377.8" y="2415.6">物体.)</tspan></text></g>
<g id="d13b"><rect x="1374.2" y="2438.3" width="34.8" height="16.4"/><text x="1377.8" y="2449.3">活动(三)</text></g>
<g id="d13c"><rect x="1374.2" y="2471.5" width="158.1" height="26.3"/><text><tspan x="1377.8" y="2482.5">在生活中，我们还经常用到2、3、4等数字，</tspan><tspan x="1377.8" y="2492.2">这些又可以表示什么呢?</tspan></text></g>
<g id="d13d"><rect x="1374.2" y="2514.5" width="158.1" height="26.3"/><text><tspan x="1377.8" y="2525.5">(点评：由"1"的学习，引申到2、3、4的学习</tspan><tspan x="1377.8" y="2535.2">，学生借助已知的方法自主学习.)</tspan></text></g>
<g id="d13e"><rect x="1374.2" y="2557.9" width="34.8" height="16.4"/><text x="1377.8" y="2568.9">活动(四)</text></g>
<g id="d14"><rect x="1220.7" y="2590.6" width="157.6" height="26.3"/><text><tspan x="1224.3" y="2601.6">1.建小足球队：学校的操场多宽敞啊，你们想</tspan><tspan x="1224.3" y="2611.3">不想去活动活动?我们就来组建一支小足球队.</tspan></text></g>
<g id="d15"><rect x="1220.7" y="2633.6" width="157.6" height="45.7"/><text><tspan x="1224.3" y="2644.6">2.你们看，老师这里有很多的数字，(数字朝</tspan><tspan x="1224.3" y="2654.3">下)谁愿意参加足球队，请你抽取一张数字纸</tspan><tspan x="1224.3" y="2664">片，把它贴在胸前.(10个同学贴好数字，按上</tspan><tspan x="1224.3" y="2673.7">台顺序站成一排)</tspan></text></g>
<g id="d16"><rect x="1220.7" y="2695.5" width="157.6" height="26.3"/><text><tspan x="1224.3" y="2706.5">3.同学们，台上有几名运动员?他们衣服上的</tspan><tspan x="1224.3" y="2716.2">数表示什么?</tspan></text></g>
<g id="d17"><rect x="1220.7" y="2738.5" width="157.6" height="26.3"/><text><tspan x="1224.3" y="2749.5">4.如果让他们排成一队，可以怎么排?(学生讨</tspan><tspan x="1224.3" y="2759.2">论)</tspan></text></g>
<g id="d17a"><rect x="1392.9" y="2744.7" width="37.5" height="16.4"/><text x="1396.5" y="2755.7">方法一:</text></g>
<g id="d18"><rect x="1220.7" y="2782.3" width="123.3" height="16.4"/><text x="1224.3" y="2793.3">1、2、3、4、5、6、7、8、9、10</text></g>
<g id="d18a"><rect x="1358.6" y="2782.3" width="37.4" height="16.4"/><text x="1362.2" y="2793.3">方法二:</text></g>
<g id="d19"><rect x="1220.7" y="2816" width="123.3" height="16.4"/><text x="1224.3" y="2827">1、3、5、7、9、2、4、6、8、10</text></g>
<g id="d19a"><rect x="1358.6" y="2816" width="37.4" height="16.4"/><text x="1362.2" y="2827">方法三:</text></g>
<g id="d20"><rect x="1220.7" y="2849.1" width="123.3" height="16.4"/><text x="1224.3" y="2860.1">10、9、8、7、6、5、4、3、2、1</text></g>
<g id="d20a"><rect x="1358.6" y="2849.1" width="132.6" height="16.4"/><text x="1362.2" y="2860.1">(学生说出其中一种，台上小队员排队)</text></g>
<g id="d21"><rect x="1220.7" y="2882.8" width="157.6" height="26.3"/><text><tspan x="1224.3" y="2893.8">5.老师扮演记者采访：请问，你是几号运动员</tspan><tspan x="1224.3" y="2903.5">?你排在第几个?</tspan></text></g>
<g id="d22"><rect x="1220.7" y="2925.7" width="127.5" height="16.4"/><text x="1224.3" y="2936.7">6.请同学扮演小记者，向运动员提问.</text></g>
<g id="d23"><rect x="1220.7" y="2958.9" width="157.6" height="26.3"/><text><tspan x="1224.3" y="2969.9">7.除了这种方法，你还有别的办法帮他们排队</tspan><tspan x="1224.3" y="2979.6">吗?</tspan></text></g>
<g id="d23a"><rect x="1392.9" y="2958.9" width="157.7" height="26.3"/><text><tspan x="1396.5" y="2969.9">(10人一组活动：把自己座位里的数字贴在胸</tspan><tspan x="1396.5" y="2979.6">前，然后大家讨论可以怎样排队，站成一队)</tspan></text></g>
<g id="d24"><rect x="1220.7" y="3028.3" width="157.6" height="26.3"/><text><tspan x="1224.3" y="3039.3">8.小组代表汇报你们组是怎么排队的?其它小</tspan><tspan x="1224.3" y="3049">组可以当小记者提问.</tspan></text></g>
<g id="d24a"><rect x="1392.9" y="3001.9" width="157.7" height="36"/><text><tspan x="1396.5" y="3012.9">(点评：组建小足球队，调动学生参与的意识</tspan><tspan x="1396.5" y="3022.6">与活力.在老师示范性的采访后，学生在模仿</tspan><tspan x="1396.5" y="3032.3">提问中，感知序数.)</tspan></text></g>
<g id="d24b"><rect x="1392.9" y="3055.2" width="29.7" height="16.4"/><text x="1396.5" y="3066.2">活动五</text></g>
<g id="d25"><rect x="1220.7" y="3088.7" width="84.3" height="16.4"/><text x="1224.3" y="3099.7">1.这节课你学到了什么?</text></g>
<g id="d26"><rect x="1220.7" y="3184.4" width="115" height="16.4"/><text x="1224.3" y="3195.4">2.你打算向谁学习他的什么优点?</text></g>
<g id="d26a"><rect x="1350.2" y="3184.4" width="44.3" height="16.4"/><text x="1353.8" y="3195.4">板书设计:</text></g>
<g id="d26a1"><rect x="1409.5" y="3121.8" width="44.8" height="16.4"/><text x="1413.1" y="3132.8">快乐的家园</text></g>
<g id="d26a2"><rect x="1409.5" y="3154.9" width="30.8" height="16.4"/><text x="1413.1" y="3165.9">1 2 3 4</text></g>
<g id="d26a3"><rect x="1409.5" y="3188" width="157.2" height="132.8"/><text><tspan x="1413.1" y="3199">总评：注重体现学生的探索过程，培养学生的</tspan><tspan x="1413.1" y="3208.7">创新意识.数学的特点之一是具有抽象性，而</tspan><tspan x="1413.1" y="3218.4">低年级学生的思维特点是以具体形象为主要形</tspan><tspan x="1413.1" y="3228.1">式，同时还保留着直观动作思维的形式.因此</tspan><tspan x="1413.1" y="3237.8">在引入新知识时，通过直观的富有意趣的画面</tspan><tspan x="1413.1" y="3247.5">——结绳计数来引入，并安排操作性的实践</tspan><tspan x="1413.1" y="3257.2">活动如:组建小足球队.让学生在操作实践中感</tspan><tspan x="1413.1" y="3266.9">受知识、学习新知识.在注重直观感受的同时</tspan><tspan x="1413.1" y="3276.6">，逐步提高对学生的要求.例如，在认识"1"的</tspan><tspan x="1413.1" y="3286.3">时候，先让学生感受一棵草、一只船、一盆花</tspan><tspan x="1413.1" y="3296">......让学生联想到：2可以表示什么?3呢?4呢?</tspan><tspan x="1413.1" y="3305.7">使学生的思维得到拓展，不只停留在原有的知</tspan><tspan x="1413.1" y="3315.4">识水平和已有的生活经验基础上.</tspan></text></g>
</g>
<g class="n b6">
<g id="f1"><rect x="1220.7" y="3337.9" width="157.6" height="26.3"/><text><tspan x="1224.3" y="3348.9">★ 苏教版一年级数学下册公开课教案最新文</tspan><tspan x="1224.3" y="3358.6">案</tspan></text></g>
<g id="f2"><rect x="1220.7" y="3380.8" width="153.5" height="16.4"/><text x="1224.3" y="3391.8">★ 2021最新苏教版小学数学一年级下册教案</text></g>
<g id="f3"><rect x="1220.7" y="3414.3" width="90.5" height="16.4"/><text x="1224.3" y="3425.3">★ 苏教一年级数学下教案</text></g>
<g id="f4"><rect x="1220.7" y="3447.9" width="153.5" height="16.4"/><text x="1224.3" y="3458.9">★ 2021小学一年级数学下册苏教版教案最新</text></g>
<g id="f5"><rect x="1220.7" y="3481" width="157.6" height="26.3"/><text><tspan x="1224.3" y="3492">★ 2021最新苏教版数学一年级下册多一些教</tspan><tspan x="1224.3" y="3501.7">案</tspan></text></g>
<g id="f6"><rect x="1220.7" y="3523.9" width="153.5" height="16.4"/><text x="1224.3" y="3534.9">★ 苏教版小学一年级数学2021最新下册教案</text></g>
<g id="f7"><rect x="1220.7" y="3557.5" width="120.7" height="16.4"/><text x="1224.3" y="3568.5">★ 苏教一年级数学下教案范文最新</text></g>
<g id="f8"><rect x="1220.7" y="3590.6" width="157.6" height="26.3"/><text><tspan x="1224.3" y="3601.6">★ 2021最新苏教版一年级数学下册第二单元</tspan><tspan x="1224.3" y="3611.3">教案</tspan></text></g>
<g id="f9"><rect x="1220.7" y="3634" width="138.4" height="16.4"/><text x="1224.3" y="3645">★ 2021苏教版一年级数学下册教案例文</text></g>
<g id="f10"><rect x="1220.7" y="3667.5" width="135.8" height="16.4"/><text x="1224.3" y="3678.5">★ 一年级数学下册教案苏教版最新模板</text></g>
</g>
</svg>
